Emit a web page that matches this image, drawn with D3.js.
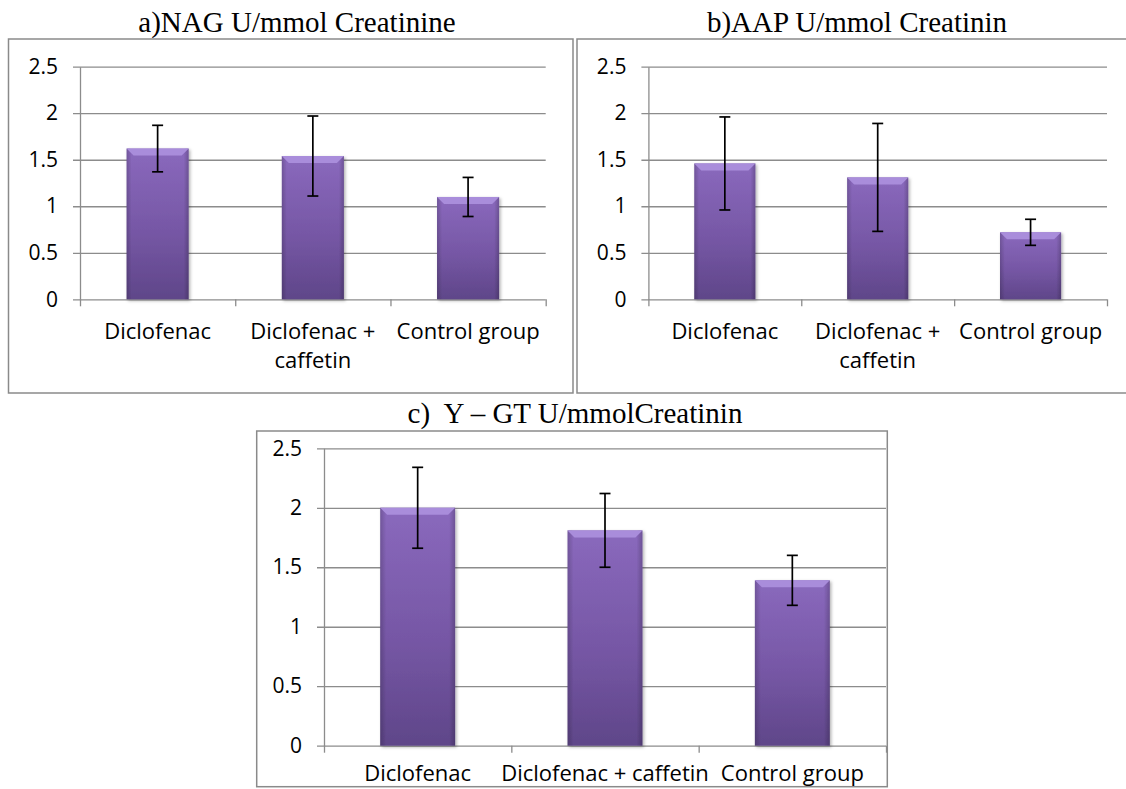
<!DOCTYPE html>
<html>
<head>
<meta charset="utf-8">
<script src="https://cdn.jsdelivr.net/npm/d3@7"></script>
<style>
  body { margin: 0; background: #fff; }
  svg { display: block; }
</style>
</head>
<body>
<svg id="chart" width="1126" height="789"></svg>
<script>
// values
const categories = ['Diclofenac', 'Diclofenac + caffetin', 'Control group'];
const nagMean = [1.62, 1.54, 1.10];
const nagErr = [0.25, 0.43, 0.21];
const aapMean = [1.46, 1.31, 0.72];
const aapErr = [0.50, 0.58, 0.14];
const ggtMean = [2.00, 1.81, 1.39];
const ggtErr = [0.34, 0.31, 0.21];
const yTicks = [0, 0.5, 1, 1.5, 2, 2.5];
const titles = ['a)NAG U/mmol Creatinine', 'b)AAP U/mmol Creatinin', 'c)  Y \u2013 GT U/mmolCreatinin'];

const svg = d3.select('#chart');

// bar gradient + soft shadow
const defs = svg.append('defs');
const grad = defs.append('linearGradient')
  .attr('id', 'barGrad').attr('x1', 0).attr('y1', 0).attr('x2', 0).attr('y2', 1);
grad.append('stop').attr('offset', '0%').attr('stop-color', '#8a69bd');
grad.append('stop').attr('offset', '55%').attr('stop-color', '#7657a5');
grad.append('stop').attr('offset', '100%').attr('stop-color', '#5f4689');
const side = defs.append('linearGradient')
  .attr('id', 'sideGrad').attr('x1', 0).attr('y1', 0).attr('x2', 1).attr('y2', 0);
side.append('stop').attr('offset', '0%').attr('stop-color', '#000').attr('stop-opacity', 0.18);
side.append('stop').attr('offset', '8%').attr('stop-color', '#000').attr('stop-opacity', 0);
side.append('stop').attr('offset', '92%').attr('stop-color', '#000').attr('stop-opacity', 0);
side.append('stop').attr('offset', '100%').attr('stop-color', '#000').attr('stop-opacity', 0.2);
defs.append('filter').attr('id', 'shadow')
  .attr('x', '-20%').attr('y', '-5%').attr('width', '140%').attr('height', '115%')
  .append('feDropShadow')
  .attr('dx', 1.5).attr('dy', 1.5).attr('stdDeviation', 1.5)
  .attr('flood-color', '#000').attr('flood-opacity', 0.3);

const gridColor = '#8c8c8c';

function drawPanel(p) {
  // outer frame + title
  svg.append('rect')
    .attr('x', p.frame[0]).attr('y', p.frame[1])
    .attr('width', p.frame[2]).attr('height', p.frame[3])
    .attr('fill', 'none').attr('stroke', '#8a8a8a').attr('stroke-width', 1.5);

  svg.append('text')
    .attr('x', p.titleX).attr('y', p.titleY)
    .attr('text-anchor', 'middle')
    .style('font-family', '"Liberation Serif", "Times New Roman", serif')
    .style('font-size', '29px')
    .style('white-space', 'pre')
    .text(p.title);

  const w = p.right - p.left;
  const h = p.bottom - p.top;
  const g = svg.append('g').attr('transform', 'translate(' + p.left + ',' + p.top + ')');

  const x = d3.scaleBand().domain(categories).range([0, w])
    .paddingInner(0.6).paddingOuter(0.3);
  const xb = d3.scaleLinear().domain([0, categories.length]).range([0, w]);
  const y = d3.scaleLinear().domain([0, 2.5]).range([h, 0]);

  // y axis with gridlines
  const yAxis = g.append('g')
    .call(d3.axisLeft(y).tickValues(yTicks).tickSize(7).tickSizeOuter(0).tickPadding(15)
      .tickFormat(d3.format('')));
  yAxis.select('.domain').attr('stroke', gridColor).attr('stroke-width', 1.3);
  yAxis.selectAll('.tick line').attr('x1', w).attr('stroke', gridColor).attr('stroke-width', 1.3);
  yAxis.selectAll('.tick text')
    .attr('fill', '#000')
    .style('font-family', '"Open Sans", sans-serif')
    .style('font-size', '21px');

  // x axis: ticks at band boundaries
  const xAxis = g.append('g').attr('transform', 'translate(0,' + h + ')')
    .call(d3.axisBottom(xb).tickValues(d3.range(categories.length + 1)).tickSize(7)
      .tickSizeOuter(0).tickFormat(''));
  xAxis.select('.domain').remove();
  xAxis.selectAll('.tick line').attr('stroke', gridColor).attr('stroke-width', 1.3);

  // category labels
  const labels = g.append('g').attr('transform', 'translate(0,' + h + ')')
    .call(d3.axisBottom(x).tickSize(0).tickPadding(0));
  labels.select('.domain').remove();
  labels.selectAll('.tick text').each(function (d) {
    const t = d3.select(this).text('')
      .attr('y', p.labelDy).attr('dy', null)
      .attr('fill', '#000')
      .style('font-family', '"Open Sans", sans-serif')
      .style('font-size', '22px');
    const lines = p.wrap && d.indexOf(' + ') > 0 ? [d.split(' + ')[0] + ' +', d.split(' + ')[1]] : [d];
    lines.forEach((ln, i) => {
      t.append('tspan').attr('x', 0).attr('dy', i === 0 ? 0 : 29).text(ln);
    });
  });

  const data = categories.map((c, i) => ({ c: c, v: p.mean[i], e: p.err[i] }));
  const bw = x.bandwidth();

  // bars
  const bars = g.selectAll('.bar').data(data).enter().append('g')
    .attr('filter', 'url(#shadow)');
  bars.append('rect')
    .attr('x', d => x(d.c)).attr('y', d => y(d.v))
    .attr('width', bw).attr('height', d => h - y(d.v))
    .attr('fill', 'url(#barGrad)');
  bars.append('rect')
    .attr('x', d => x(d.c)).attr('y', d => y(d.v))
    .attr('width', bw).attr('height', d => h - y(d.v))
    .attr('fill', 'url(#sideGrad)');
  // top bevel
  bars.append('path')
    .attr('d', d => {
      const x0 = x(d.c), y0 = y(d.v), b = 7;
      return 'M' + x0 + ',' + y0 + 'L' + (x0 + bw) + ',' + y0 +
        'L' + (x0 + bw - b) + ',' + (y0 + b) + 'L' + (x0 + b) + ',' + (y0 + b) + 'Z';
    })
    .attr('fill', '#a98ddb');

  // error bars
  const eb = g.selectAll('.err').data(data).enter().append('g')
    .attr('stroke', '#000').attr('stroke-width', 1.7);
  eb.append('line')
    .attr('x1', d => x(d.c) + bw / 2).attr('x2', d => x(d.c) + bw / 2)
    .attr('y1', d => y(d.v + d.e)).attr('y2', d => y(d.v - d.e));
  eb.append('line')
    .attr('x1', d => x(d.c) + bw / 2 - 5.5).attr('x2', d => x(d.c) + bw / 2 + 5.5)
    .attr('y1', d => y(d.v + d.e)).attr('y2', d => y(d.v + d.e));
  eb.append('line')
    .attr('x1', d => x(d.c) + bw / 2 - 5.5).attr('x2', d => x(d.c) + bw / 2 + 5.5)
    .attr('y1', d => y(d.v - d.e)).attr('y2', d => y(d.v - d.e));
}

drawPanel({
  title: titles[0], titleX: 297, titleY: 32,
  frame: [8.5, 39, 564.5, 354],
  left: 80, right: 545.7, top: 66.7, bottom: 299.3,
  mean: nagMean, err: nagErr, wrap: true, labelDy: 40
});
drawPanel({
  title: titles[1], titleX: 857, titleY: 32,
  frame: [577, 39, 560, 354],
  left: 648.4, right: 1107, top: 66.7, bottom: 299.3,
  mean: aapMean, err: aapErr, wrap: true, labelDy: 40
});
drawPanel({
  title: titles[2], titleX: 575, titleY: 423,
  frame: [256.7, 431, 630.6, 355.7],
  left: 324, right: 886, top: 448.3, bottom: 745.7,
  mean: ggtMean, err: ggtErr, wrap: false, labelDy: 35
});
</script>
</body>
</html>
